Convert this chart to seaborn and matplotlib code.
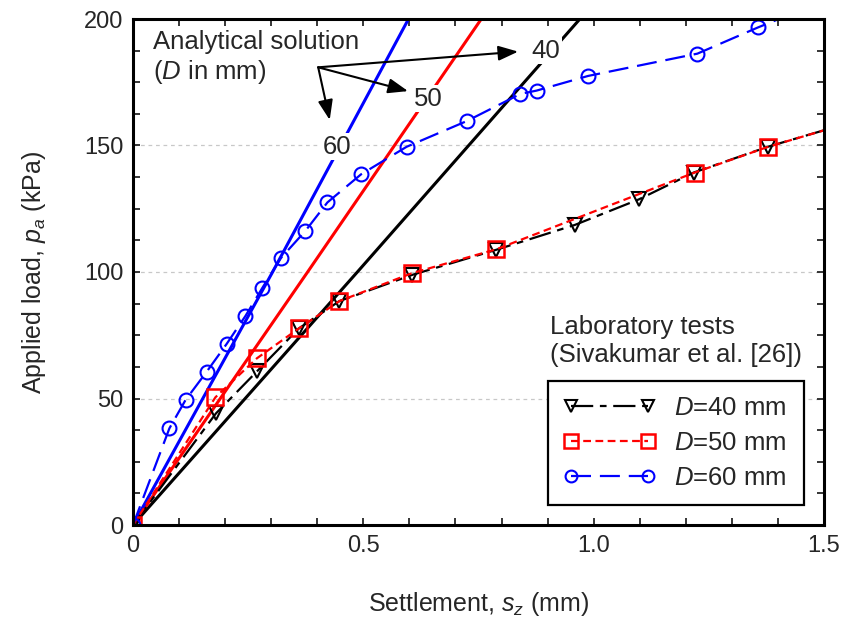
import numpy as np
import pandas as pd
import matplotlib
matplotlib.use("Agg")
import matplotlib.pyplot as plt
import seaborn as sns
from matplotlib.ticker import MultipleLocator

# ---------------- data ----------------
# Analytical solution (solid lines): settlement (mm) at applied load (kPa)
ana_load = [0, 100, 200]
ana_s_40 = [0.0, 0.487, 0.970]
ana_s_50 = [0.0, 0.379, 0.756]
ana_s_60 = [0.0, 0.303, 0.598]

# Laboratory tests (Sivakumar et al. [26])
lab40_s = [0.0, 0.180, 0.270, 0.360, 0.448, 0.605, 0.787, 0.959, 1.098, 1.217, 1.378, 1.55]
lab40_p = [0.0, 44.1, 60.9, 77.7, 88.5, 98.8, 108.7, 118.6, 128.7, 139.3, 149.5, 158.7]

lab50_s = [0.0, 0.179, 0.269, 0.360, 0.448, 0.605, 0.789, 1.219, 1.379, 1.55]
lab50_p = [0.0, 50.5, 65.9, 77.7, 88.5, 99.5, 109.0, 139.3, 149.5, 158.7]

lab60_s = [0.0, 0.079, 0.114, 0.160, 0.203, 0.244, 0.281, 0.321, 0.374, 0.422,
           0.495, 0.594, 0.725, 0.841, 0.876, 0.988, 1.225, 1.357, 1.45]
lab60_p = [0.0, 38.2, 49.4, 60.6, 71.5, 82.6, 93.8, 105.5, 116.2, 127.5,
           138.6, 149.5, 159.7, 170.4, 171.7, 177.5, 186.3, 196.7, 203.5]

legend_labels = ["$D$=40 mm", "$D$=50 mm", "$D$=60 mm"]
diam_labels = ["40", "50", "60"]

# ---------------- style ----------------
sns.set_style("ticks")
plt.rcParams["font.family"] = ["Liberation Sans", "DejaVu Sans"]
plt.rcParams["mathtext.fontset"] = "custom"
plt.rcParams["mathtext.rm"] = "Liberation Sans"
plt.rcParams["mathtext.it"] = "Liberation Sans:italic"
plt.rcParams["mathtext.bf"] = "Liberation Sans:bold"

fig = plt.figure(figsize=(8.45, 6.25), dpi=100)
ax = fig.add_axes([0.1574, 0.16, 0.8178, 0.8096])

# analytical lines
for s, c in zip([ana_s_40, ana_s_50, ana_s_60], ["black", "red", "blue"]):
    sns.lineplot(x=s, y=ana_load, ax=ax, color=c, lw=2.2, sort=False,
                 estimator=None, legend=False)

# lab lines
df40 = pd.DataFrame({"s": lab40_s, "p": lab40_p})
df50 = pd.DataFrame({"s": lab50_s, "p": lab50_p})
df60 = pd.DataFrame({"s": lab60_s, "p": lab60_p})

n0 = len(ax.lines)
sns.lineplot(data=df40, x="s", y="p", ax=ax, color="black", lw=1.6, sort=False,
             estimator=None, marker="v", markersize=10, markerfacecolor="none",
             markeredgecolor="black", markeredgewidth=1.5, dashes=False)
sns.lineplot(data=df50, x="s", y="p", ax=ax, color="red", lw=1.6, sort=False,
             estimator=None, marker="s", markersize=11.5, markerfacecolor="none",
             markeredgecolor="red", markeredgewidth=1.8, dashes=False)
sns.lineplot(data=df60, x="s", y="p", ax=ax, color="blue", lw=1.6, sort=False,
             estimator=None, marker="o", markersize=10, markerfacecolor="none",
             markeredgecolor="blue", markeredgewidth=1.5, dashes=False)
lab_lines = ax.lines[n0:n0 + 3]
lab_lines[0].set_dashes([10, 3, 3, 3])
lab_lines[1].set_dashes([3.5, 2])
lab_lines[2].set_dashes([9, 4])
for ln, lab in zip(lab_lines, legend_labels):
    ln.set_label(lab)

# axes
ax.set_xlim(0, 1.5)
ax.set_ylim(0, 200)
ax.xaxis.set_major_locator(MultipleLocator(0.5))
ax.xaxis.set_minor_locator(MultipleLocator(0.1))
ax.yaxis.set_major_locator(MultipleLocator(50))
ax.yaxis.set_minor_locator(MultipleLocator(12.5))
ax.set_xticks([0, 0.5, 1.0, 1.5])
ax.set_xticklabels(["0", "0.5", "1.0", "1.5"])
ax.tick_params(which="both", direction="in", top=True, right=True,
               length=5, width=1.3, labelsize=17, pad=7)
for sp in ax.spines.values():
    sp.set_linewidth(2.2)
    sp.set_color("black")
ax.yaxis.grid(True, which="major", color="#c8c8c8", lw=0.9, ls=(0, (3, 3)))
ax.set_axisbelow(True)

ax.set_xlabel("Settlement, $s_z$ (mm)", fontsize=18, labelpad=24)
ax.set_ylabel("Applied load, $p_a$ (kPa)", fontsize=18, labelpad=26)

# annotations
ax.text(0.043, 195.5, "Analytical solution\n($D$ in mm)", fontsize=18.5,
        va="top", ha="left", linespacing=1.15)
origin = (0.402, 180.9)
heads = [(0.836, 187.1), (0.597, 171.5), (0.427, 160.1)]
label_pos = [(0.897, 187.5), (0.640, 168.5), (0.442, 149.5)]
for h, lp, t in zip(heads, label_pos, diam_labels):
    ax.annotate("", xy=h, xytext=origin,
                arrowprops=dict(arrowstyle="-|>,head_length=0.8,head_width=0.3",
                                color="black", lw=1.5, mutation_scale=15,
                                shrinkA=0, shrinkB=0))
    ax.text(lp[0], lp[1], t, fontsize=18.5, ha="center", va="center",
            bbox=dict(facecolor="white", edgecolor="none", pad=1))

# legend
ax.text(0.906, 83.0, "Laboratory tests\n(Sivakumar et al. [26])", fontsize=18.5,
        ha="left", va="top", linespacing=1.22)
leg = ax.legend(handles=lab_lines, loc="lower left",
                bbox_to_anchor=(0.6006, 0.0395, 0.3704, 0.243), mode="expand",
                borderaxespad=0, fontsize=18.5, numpoints=2, handlelength=3.6,
                handletextpad=0.7, labelspacing=0.42, borderpad=0.6,
                markerscale=0.85,
                fancybox=False, framealpha=1, edgecolor="black")
leg.get_frame().set_linewidth(1.6)

fig.savefig("out.png", dpi=100)
